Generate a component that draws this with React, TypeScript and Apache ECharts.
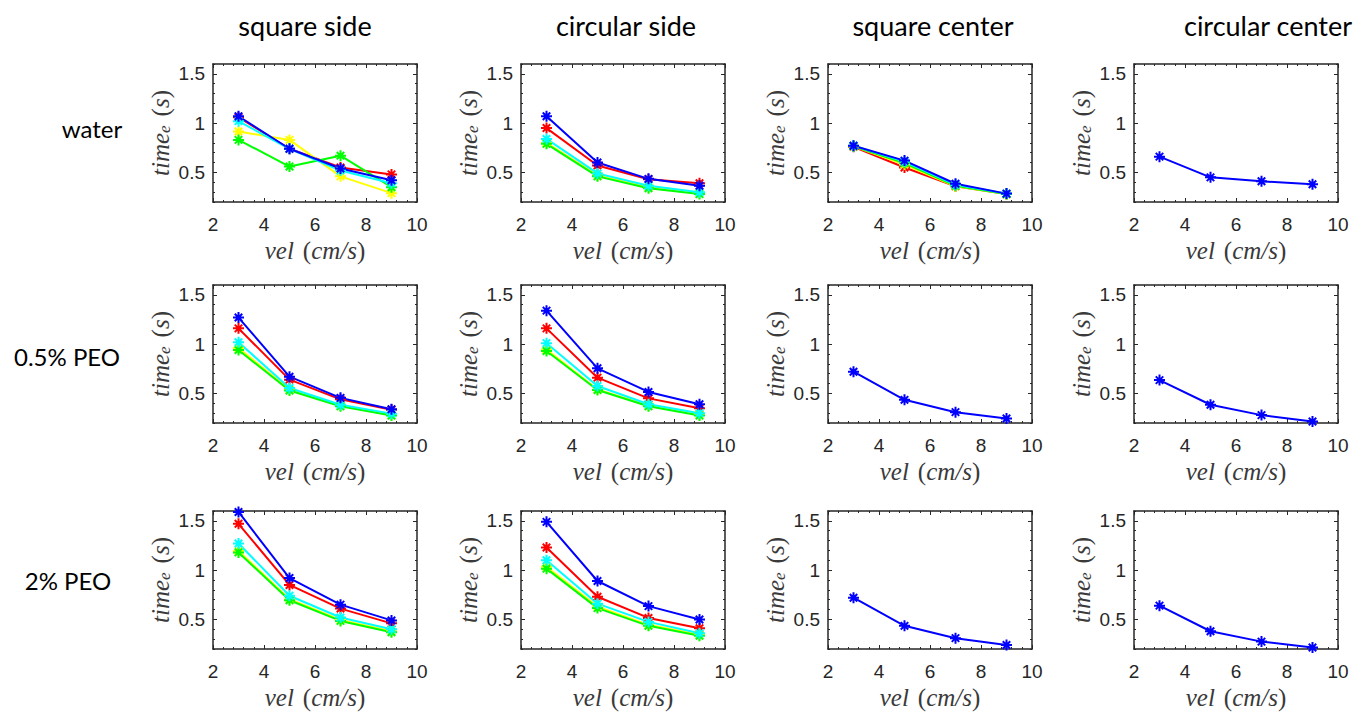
import React, { useEffect, useRef } from "react";
import * as echarts from "echarts";

// ---------- data ----------
const vel = [3, 5, 7, 9];
const colTitles = ["square side", "circular side", "square center", "circular center"];
const rowTitles = ["water", "0.5% PEO", "2% PEO"];
const xTickValues = [2, 4, 6, 8, 10];
const yTickValues = [0.5, 1, 1.5];

// water
const waterSqSideR = [1.06, 0.74, 0.55, 0.48];
const waterSqSideY = [0.915, 0.83, 0.46, 0.29];
const waterSqSideG = [0.83, 0.56, 0.67, 0.35];
const waterSqSideC = [1.02, 0.74, 0.52, 0.39];
const waterSqSideB = [1.07, 0.74, 0.54, 0.42];

const waterCirSideR = [0.95, 0.57, 0.43, 0.39];
const waterCirSideY = [0.8, 0.47, 0.35, 0.29];
const waterCirSideG = [0.79, 0.46, 0.34, 0.28];
const waterCirSideC = [0.84, 0.49, 0.365, 0.3];
const waterCirSideB = [1.07, 0.6, 0.435, 0.365];

const waterSqCenR = [0.76, 0.55, 0.36, 0.28];
const waterSqCenY = [0.765, 0.58, 0.36, 0.28];
const waterSqCenG = [0.765, 0.595, 0.365, 0.28];
const waterSqCenC = [0.77, 0.61, 0.375, 0.285];
const waterSqCenB = [0.77, 0.62, 0.385, 0.285];

const waterCirCenB = [0.66, 0.45, 0.41, 0.38];

// 0.5% PEO
const peo05SqSideR = [1.16, 0.64, 0.44, 0.335];
const peo05SqSideY = [0.96, 0.54, 0.375, 0.28];
const peo05SqSideG = [0.94, 0.53, 0.37, 0.275];
const peo05SqSideC = [1.02, 0.555, 0.385, 0.295];
const peo05SqSideB = [1.27, 0.67, 0.455, 0.34];

const peo05CirSideR = [1.16, 0.66, 0.45, 0.35];
const peo05CirSideY = [0.945, 0.54, 0.375, 0.285];
const peo05CirSideG = [0.93, 0.535, 0.37, 0.275];
const peo05CirSideC = [1.01, 0.575, 0.39, 0.3];
const peo05CirSideB = [1.34, 0.755, 0.515, 0.39];

const peo05SqCenB = [0.72, 0.435, 0.31, 0.245];
const peo05CirCenB = [0.635, 0.385, 0.28, 0.215];

// 2% PEO
const peo2SqSideR = [1.47, 0.85, 0.61, 0.46];
const peo2SqSideY = [1.195, 0.705, 0.495, 0.38];
const peo2SqSideG = [1.18, 0.695, 0.485, 0.37];
const peo2SqSideC = [1.27, 0.74, 0.52, 0.4];
const peo2SqSideB = [1.59, 0.92, 0.65, 0.49];

const peo2CirSideR = [1.23, 0.73, 0.515, 0.41];
const peo2CirSideY = [1.035, 0.63, 0.445, 0.345];
const peo2CirSideG = [1.015, 0.615, 0.435, 0.335];
const peo2CirSideC = [1.1, 0.66, 0.475, 0.36];
const peo2CirSideB = [1.49, 0.89, 0.635, 0.5];

const peo2SqCenB = [0.72, 0.435, 0.31, 0.24];
const peo2CirCenB = [0.64, 0.38, 0.275, 0.215];

// ---------- styling ----------
const RED = "#ff0000";
const YEL = "#ffff00";
const GRN = "#00ff00";
const CYA = "#00ffff";
const BLU = "#0000ff";

const five = (r: number[], y: number[], g: number[], c: number[], b: number[]) => [
  { color: RED, data: r },
  { color: YEL, data: y },
  { color: GRN, data: g },
  { color: CYA, data: c },
  { color: BLU, data: b },
];
const one = (b: number[]) => [{ color: BLU, data: b }];

const panels = [
  [
    five(waterSqSideR, waterSqSideY, waterSqSideG, waterSqSideC, waterSqSideB),
    five(waterCirSideR, waterCirSideY, waterCirSideG, waterCirSideC, waterCirSideB),
    five(waterSqCenR, waterSqCenY, waterSqCenG, waterSqCenC, waterSqCenB),
    one(waterCirCenB),
  ],
  [
    five(peo05SqSideR, peo05SqSideY, peo05SqSideG, peo05SqSideC, peo05SqSideB),
    five(peo05CirSideR, peo05CirSideY, peo05CirSideG, peo05CirSideC, peo05CirSideB),
    one(peo05SqCenB),
    one(peo05CirCenB),
  ],
  [
    five(peo2SqSideR, peo2SqSideY, peo2SqSideG, peo2SqSideC, peo2SqSideB),
    five(peo2CirSideR, peo2CirSideY, peo2CirSideG, peo2CirSideC, peo2CirSideB),
    one(peo2SqCenB),
    one(peo2CirCenB),
  ],
];

const colLeft = [213, 521, 828, 1134];
const rowTop = [64, 285, 511];
const GW = 204;
const GH = 138;
const colTitleX = [305, 626, 933, 1268];
const rowLabelX = [92, 67, 68];
const rowLabelY = [128, 356, 580];

const AX = "#262626";
const NAME_COLOR = "#3a3a3a";
const MATH_FONT = "'Liberation Serif', 'DejaVu Serif', serif";
const TICK_FONT = "'Liberation Sans', Arial, sans-serif";
const ASTERISK =
  "path://M5 0 L5 10 M0 5 L10 5 M1.6 1.6 L8.4 8.4 M1.6 8.4 L8.4 1.6";

function buildOption() {
  const grids: any[] = [];
  const xAxes: any[] = [];
  const yAxes: any[] = [];
  const series: any[] = [];
  const mathRich = {
    i: { fontFamily: MATH_FONT, fontStyle: "italic", fontSize: 25, color: NAME_COLOR, lineHeight: 26 },
    n: { fontFamily: MATH_FONT, fontStyle: "normal", fontSize: 25, color: NAME_COLOR, lineHeight: 26 },
    sp: { fontFamily: MATH_FONT, fontSize: 25, lineHeight: 26, width: 9 },
    s: {
      fontFamily: MATH_FONT,
      fontStyle: "italic",
      fontSize: 17,
      color: NAME_COLOR,
      lineHeight: 15,
      verticalAlign: "bottom",
    },
  };
  const nameStyle = {
    fontFamily: MATH_FONT,
    fontStyle: "italic",
    fontSize: 25,
    color: NAME_COLOR,
    rich: mathRich,
  };
  let gi = 0;
  for (let r = 0; r < 3; r++) {
    for (let c = 0; c < 4; c++) {
      grids.push({ left: colLeft[c], top: rowTop[r], width: GW, height: GH, containLabel: false });
      const xBase = {
        type: "value",
        gridIndex: gi,
        min: 2,
        max: 10,
        interval: 2,
        splitLine: { show: false },
        axisLine: { show: true, onZero: false, lineStyle: { color: AX, width: 1.5 } },
        axisTick: { show: true, inside: true, length: 4, lineStyle: { color: AX, width: 1 } },
        minorTick: { show: true, splitNumber: 5, length: 2, lineStyle: { color: AX, width: 1 } },
      };
      xAxes.push({
        ...xBase,
        position: "bottom",
        axisLabel: {
          show: true,
          margin: 13,
          fontFamily: TICK_FONT,
          fontSize: 19,
          color: AX,
          customValues: xTickValues,
        },
        name: "{i|vel}{sp| }{n|(}{i|cm/s}{n|)}",
        nameLocation: "middle",
        nameGap: 35,
        nameTextStyle: nameStyle,
      });
      xAxes.push({ ...xBase, position: "top", axisLabel: { show: false } });

      const yMain = {
        type: "value",
        gridIndex: gi,
        min: 0.2,
        max: 1.6,
        splitLine: { show: false },
        axisLine: { show: true, onZero: false, lineStyle: { color: AX, width: 1.5 } },
        axisTick: {
          show: true,
          inside: true,
          length: 4,
          customValues: yTickValues,
          lineStyle: { color: AX, width: 1 },
        },
      };
      const yMinor = {
        type: "value",
        gridIndex: gi,
        min: 0.2,
        max: 1.6,
        interval: 0.1,
        splitLine: { show: false },
        axisLine: { show: false },
        axisLabel: { show: false },
        axisTick: { show: true, inside: true, length: 2, lineStyle: { color: AX, width: 1 } },
      };
      yAxes.push({
        ...yMain,
        position: "left",
        axisLabel: {
          show: true,
          margin: 8,
          fontFamily: TICK_FONT,
          fontSize: 19,
          color: AX,
          customValues: yTickValues,
        },
        name: "{i|time}{s|e}{sp| }{n|(}{i|s}{n|)}",
        nameLocation: "middle",
        nameRotate: 90,
        nameGap: 40,
        nameTextStyle: nameStyle,
      });
      yAxes.push({ ...yMinor, position: "left" });
      yAxes.push({ ...yMain, position: "right", axisLabel: { show: false } });
      yAxes.push({ ...yMinor, position: "right" });

      for (const s of panels[r][c]) {
        series.push({
          type: "line",
          xAxisIndex: gi * 2,
          yAxisIndex: gi * 4,
          data: vel.map((v, k) => [v, s.data[k]]),
          symbol: ASTERISK,
          symbolSize: 11,
          clip: false,
          lineStyle: { color: s.color, width: 2 },
          itemStyle: { color: s.color, borderColor: s.color, borderWidth: 2 },
          emphasis: { disabled: true },
        });
      }
      gi++;
    }
  }

  const graphics: any[] = [];
  colTitles.forEach((t, i) => {
    graphics.push({
      type: "text",
      x: colTitleX[i],
      y: 25,
      style: { text: t, font: "27px Lato", fill: "#000", align: "center", verticalAlign: "middle" },
    });
  });
  rowTitles.forEach((t, i) => {
    graphics.push({
      type: "text",
      x: rowLabelX[i],
      y: rowLabelY[i],
      style: { text: t, font: "24px Lato", fill: "#000", align: "center", verticalAlign: "middle" },
    });
  });

  return {
    animation: false,
    backgroundColor: "#ffffff",
    grid: grids,
    xAxis: xAxes,
    yAxis: yAxes,
    series,
    graphic: graphics,
  };
}

export default function App() {
  const ref = useRef<HTMLDivElement>(null);
  useEffect(() => {
    if (!ref.current) return;
    const chart = echarts.init(ref.current, null, { renderer: "svg" });
    chart.setOption(buildOption() as any);
    return () => chart.dispose();
  }, []);
  return (
    <div
      ref={ref}
      style={{ position: "absolute", left: 0, top: 0, width: 1362, height: 713 }}
    />
  );
}
